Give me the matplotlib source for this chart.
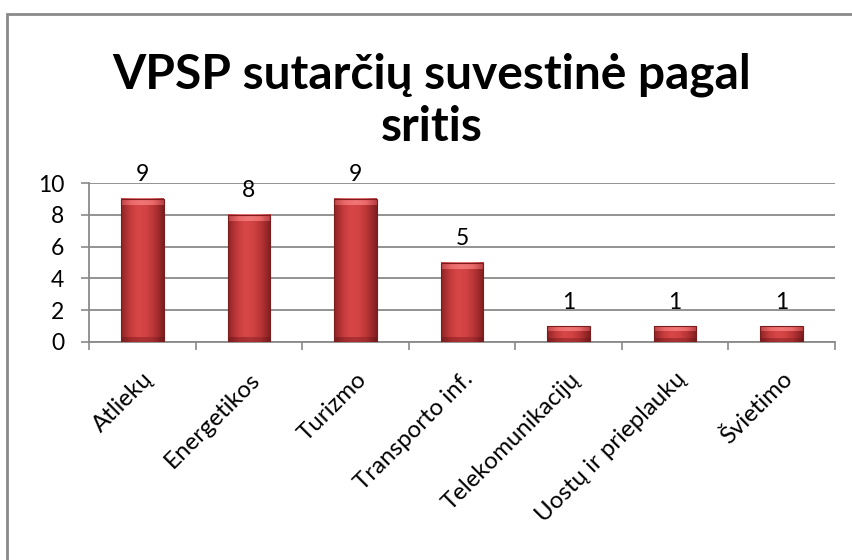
import numpy as np
import matplotlib
matplotlib.use("Agg")
import matplotlib.pyplot as plt
from matplotlib.colors import LinearSegmentedColormap
from matplotlib.patches import Rectangle

categories = ["Atliekų", "Energetikos", "Turizmo", "Transporto inf.",
              "Telekomunikacijų", "Uostų ir prieplaukų", "Švietimo"]
values = [9, 8, 9, 5, 1, 1, 1]
y_ticks = [0, 2, 4, 6, 8, 10]
title = "VPSP sutarčių suvestinė pagal\nsritis"

FONT = ["Lato", "Open Sans", "DejaVu Sans"]
plt.rcParams["font.family"] = FONT

fig = plt.figure(figsize=(8.52, 5.6), dpi=100)
fig.patch.set_facecolor("white")

# frame of the embedded chart (cropped right / bottom)
fig.add_artist(Rectangle((6.5 / 852, -0.1), 1.2, (560 - 13.5) / 560 + 0.1,
                         transform=fig.transFigure, fill=False,
                         edgecolor="#8a8a8a", lw=2.0))

ax = fig.add_axes([89 / 852, (560 - 342) / 560, (835 - 89) / 852, (342 - 183) / 560])
ax.set_facecolor("none")
x = np.arange(len(categories))
bars = ax.bar(x, values, width=0.40, color="#C0393B", zorder=3)

# cylinder-like gradient on each bar
cmap = LinearSegmentedColormap.from_list(
    "r", ["#8f2325", "#c23a3b", "#d84747", "#d04243", "#b33233", "#7f1f21"])
topc = LinearSegmentedColormap.from_list(
    "t", ["#c04546", "#ec6a6a", "#f07676", "#ec6a6a", "#b84042"])
botc = LinearSegmentedColormap.from_list(
    "b", ["#7a1c1e", "#a42c2e", "#ad3234", "#a42c2e", "#721a1c"])
grad = np.linspace(0, 1, 64).reshape(1, -1)
for b in bars:
    x0, w, h = b.get_x(), b.get_width(), b.get_height()
    ax.imshow(grad, cmap=cmap, extent=(x0, x0 + w, 0, h), aspect="auto",
              zorder=3.5, interpolation="bicubic")
    bev = min(0.38, h * 0.3)
    ax.imshow(grad, cmap=topc, extent=(x0, x0 + w, h - bev, h), aspect="auto",
              zorder=3.6, interpolation="bicubic")
    ax.imshow(grad, cmap=botc, extent=(x0, x0 + w, 0, bev * 0.8), aspect="auto",
              zorder=3.6, interpolation="bicubic")
    ax.add_patch(Rectangle((x0, 0), w, h, fill=False, edgecolor="#7a1d1f",
                           lw=0.8, zorder=3.7))
    ax.text(b.get_x() + w / 2, h + 0.85, f"{h:g}", ha="center", va="bottom",
            fontsize=16.5, zorder=5)

ax.set_xlim(-0.5, len(categories) - 0.5)
ax.set_ylim(0, 10)
ax.set_yticks(y_ticks)
ax.set_yticklabels([str(t) for t in y_ticks], fontsize=16.5)
ax.set_xticks(np.arange(-0.5, len(categories), 1.0))
ax.set_xticklabels([])
ax.set_xticks(x, minor=True)
ax.set_xticklabels(categories, minor=True, rotation=45, ha="right",
                   rotation_mode="anchor", fontsize=17.3)
ax.tick_params(axis="x", which="minor", length=0, pad=19)
ax.tick_params(axis="x", which="major", length=5.5, width=1.2, color="#8a8a8a")
ax.tick_params(axis="y", length=6, width=1.2, color="#8a8a8a", pad=12)
ax.yaxis.grid(True, color="#8a8a8a", lw=1.3, zorder=1)
ax.set_axisbelow(True)
for s in ["top", "right"]:
    ax.spines[s].set_visible(False)
for s in ["left", "bottom"]:
    ax.spines[s].set_color("#8a8a8a")
    ax.spines[s].set_linewidth(1.3)

fig.text(432 / 852, (560 - 101) / 560, title, ha="center", va="center",
         fontsize=34.5, fontweight="bold", linespacing=1.22)

fig.savefig("out.png", dpi=100)
